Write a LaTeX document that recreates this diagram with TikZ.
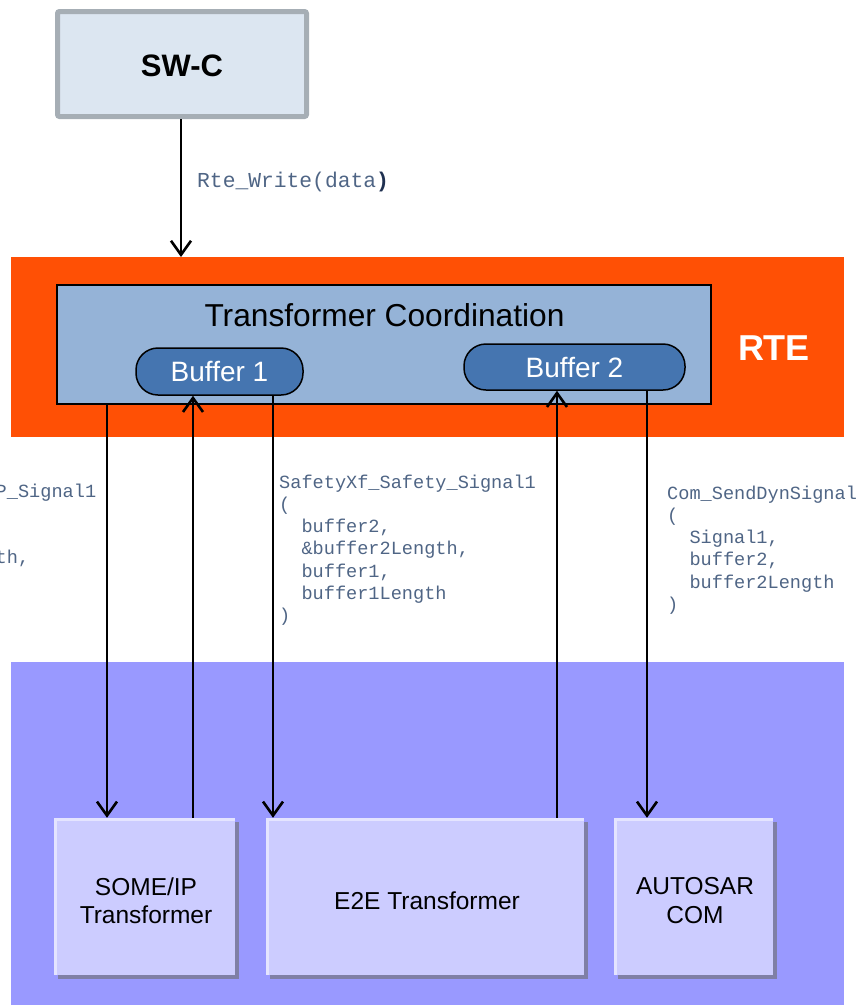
\documentclass[tikz,border=0pt]{standalone}
\usepackage{fontspec}
\setmainfont{Liberation Sans}
\newfontfamily\codefont{Liberation Mono}
\usetikzlibrary{arrows.meta,shadows}
\definecolor{swcfill}{HTML}{DCE6F1}
\definecolor{swcborder}{HTML}{A6AEB5}
\definecolor{rteorange}{HTML}{FF5005}
\definecolor{tcfill}{HTML}{95B3D7}
\definecolor{buffill}{HTML}{4575B0}
\definecolor{lowbg}{HTML}{9999FF}
\definecolor{boxfill}{HTML}{CCCCFF}
\definecolor{boxlight}{HTML}{E4E4FF}
\definecolor{boxshadow}{HTML}{7F7FA6}
\definecolor{codecol}{HTML}{4F6585}
\definecolor{codedark}{HTML}{1F3050}
\begin{document}
\begin{tikzpicture}[x=1pt,y=-1pt,
  region/.style={inner sep=0pt, outer sep=0pt, draw=none},
  swcbox/.style={draw=swcborder, line width=5pt, fill=swcfill, rounded corners=2pt,
    minimum width=249pt, minimum height=105pt, inner sep=0pt,
    font=\bfseries\fontsize{31}{36}\selectfont},
  tcbox/.style={draw=black, line width=1.5pt, fill=tcfill, minimum width=654pt,
    minimum height=119pt, inner sep=0pt},
  bufbox/.style={draw=black, line width=1.5pt, fill=buffill, rounded corners=22pt,
    text=white, inner sep=0pt, font=\fontsize{28}{32}\selectfont},
  modbox/.style={fill=boxfill, inner sep=0pt, minimum height=157pt,
    drop shadow={shadow xshift=4pt, shadow yshift=-4pt, fill=boxshadow, opacity=1},
    path picture={\draw[boxlight, line width=5pt]
      (path picture bounding box.south west) -- (path picture bounding box.north west)
      -- (path picture bounding box.north east);}},
  modtext/.style={inner sep=0pt, align=center, font=\fontsize{24.5}{28.5}\selectfont},
  codetext/.style={text=codecol, inner sep=0pt, anchor=base west,
    font=\codefont\fontsize{18.6}{22.3}\selectfont},
  arr/.style={line width=2.6pt, -{Straight Barb[length=14pt,width=20pt]}}
]
\useasboundingbox (0,0) rectangle (860,1005);
\clip (0,0) rectangle (860,1005);

% background regions
\node[region, fill=rteorange, minimum width=833pt, minimum height=180pt] (rte) at (427.5,347) {};
\node[region, fill=lowbg, minimum width=833pt, minimum height=343pt] (low) at (427.5,833.5) {};
\node[anchor=base, text=white, font=\bfseries\fontsize{36}{40}\selectfont, inner sep=0pt] (rtelabel) at (774,360) {RTE};

% SW-C
\node[swcbox] (swc) at (182,64) {};
\node[inner sep=0pt, font=\bfseries\fontsize{31}{36}\selectfont] (swctext) at (182,66) {SW-C};

% Transformer coordination
\node[tcbox] (tc) at (384,344.5) {};
\node[anchor=base, inner sep=0pt, font=\fontsize{31.7}{36}\selectfont] (tctext) at (384.5,326) {Transformer Coordination};
\node[bufbox, minimum width=167pt, minimum height=47pt] (buf1) at (219.5,371.5) {Buffer 1};
\node[bufbox, minimum width=221pt, minimum height=46pt] (buf2) at (574.5,367) {Buffer 2};

% modules
\node[modbox, minimum width=181pt] (someip) at (144.5,896.5) {};
\node[modbox, minimum width=318pt] (e2e) at (425,896.5) {};
\node[modbox, minimum width=159pt] (com) at (693.5,896.5) {};
\node[modtext] (someiptext) at (146,900.5) {SOME/IP\\Transformer};
\node[modtext] (e2etext) at (427,900.5) {E2E Transformer};
\node[modtext] (comtext) at (695,900.5) {AUTOSAR\\COM};

% connector x positions
\coordinate (x0) at (181,0);
\coordinate (x1) at (107,0);
\coordinate (x2) at (193,0);
\coordinate (x3) at (273,0);
\coordinate (x4) at (557,0);
\coordinate (x5) at (647,0);

\draw[arr] (swc.south -| x0) -- (rte.north -| x0);
\draw[arr] (tc.south -| x1) -- (someip.north -| x1);
\draw[arr] (someip.north -| x2) -- (buf1.south -| x2);
\draw[arr] (buf1.south -| x3) -- (e2e.north -| x3);
\draw[arr] (e2e.north -| x4) -- (buf2.south -| x4);
\draw[arr] (buf2.south -| x5) -- (com.north -| x5);

% labels
\node[codetext, font=\codefont\fontsize{21.3}{25}\selectfont] (rtewrite) at (197,187)
  {Rte\_Write(data\textcolor{codedark}{\bfseries )}};

\node[codetext] (someipcall) at (-160.7,497) {\begin{tabular}[t]{@{}l@{}}
SomeIpXf\_SOMEIP\_Signal1\\
(\\
\phantom{xx}buffer1,\\
\phantom{xx}\&buffer1Length,\\
\phantom{xx}data\\
)
\end{tabular}};

\node[codetext] (safetycall) at (279,488) {\begin{tabular}[t]{@{}l@{}}
SafetyXf\_Safety\_Signal1\\
(\\
\phantom{xx}buffer2,\\
\phantom{xx}\&buffer2Length,\\
\phantom{xx}buffer1,\\
\phantom{xx}buffer1Length\\
)
\end{tabular}};

\node[codetext] (comcall) at (667,499) {\begin{tabular}[t]{@{}l@{}}
Com\_SendDynSignal\\
(\\
\phantom{xx}Signal1,\\
\phantom{xx}buffer2,\\
\phantom{xx}buffer2Length\\
)
\end{tabular}};
\end{tikzpicture}
\end{document}
